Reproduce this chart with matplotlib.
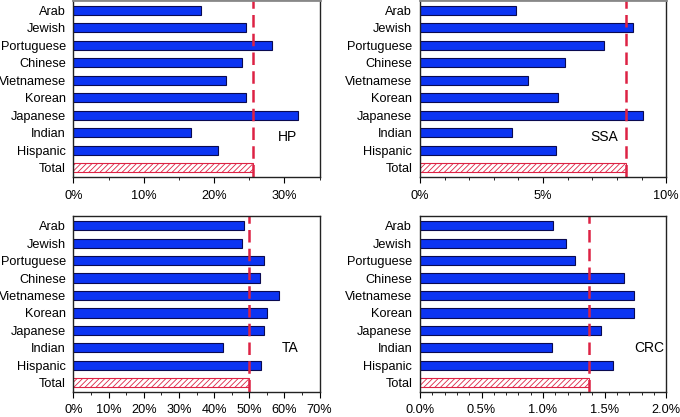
import numpy as np
import matplotlib.pyplot as plt
from matplotlib.ticker import MultipleLocator, FuncFormatter

plt.rcParams['font.family'] = ['Liberation Sans', 'DejaVu Sans']
plt.rcParams['hatch.color'] = '#e8334f'
plt.rcParams['hatch.linewidth'] = 0.6

groups = ["Arab", "Jewish", "Portuguese", "Chinese", "Vietnamese",
          "Korean", "Japanese", "Indian", "Hispanic", "Total"]

hp = [18.2, 24.5, 28.3, 24.0, 21.7, 24.5, 31.9, 16.7, 20.5, 25.5]
ssa = [3.89, 8.67, 7.48, 5.88, 4.40, 5.60, 9.08, 3.73, 5.51, 8.37]
ta = [48.6, 48.0, 54.1, 53.0, 58.5, 55.0, 54.3, 42.4, 53.3, 49.8]
crc = [1.08, 1.19, 1.26, 1.66, 1.74, 1.74, 1.47, 1.07, 1.57, 1.37]

BLUE = '#0c34f2'
EDGE = '#0a0a50'
RED = '#dd2244'

# (values, label, xmax, major, minor, decimals, label x, label row)
panels = [
    (hp, "HP", 35, 10, 5, 0, 30.5, 7.25),
    (ssa, "SSA", 10, 5, 1, 0, 7.5, 7.25),
    (ta, "TA", 70, 10, 5, 0, 61.5, 7.0),
    (crc, "CRC", 2.0, 0.5, 0.1, 1, 1.86, 7.0),
]

fig = plt.figure(figsize=(6.8, 4.17), dpi=100)
boxes = [
    [0.108, 0.5755, 0.362, 0.4235],
    [0.6176, 0.5755, 0.362, 0.4235],
    [0.108, 0.060, 0.362, 0.422],
    [0.6176, 0.060, 0.362, 0.422],
]

for i, (vals, name, xmax, major, minor, dec, lx, ly) in enumerate(panels):
    ax = fig.add_axes(boxes[i])
    y = np.arange(len(groups))
    ax.barh(y[:-1], vals[:-1], height=0.52, color=BLUE, edgecolor=EDGE, linewidth=0.8)
    ax.barh(y[-1], vals[-1], height=0.52, color='white', edgecolor=RED,
            linewidth=0.8, hatch='//////')
    ax.axvline(vals[-1], color=RED, linestyle=(0, (5, 2.5)), linewidth=1.8)
    ax.set_xlim(0, xmax)
    ax.set_ylim(9.52, -0.55)
    ax.set_yticks(y)
    ax.set_yticklabels(groups, fontsize=9.2)
    ax.tick_params(axis='y', length=0, pad=5.5)
    ax.xaxis.set_major_locator(MultipleLocator(major))
    ax.xaxis.set_minor_locator(MultipleLocator(minor))
    ax.xaxis.set_major_formatter(FuncFormatter(lambda v, p, d=dec: f"{v:.{d}f}%"))
    ax.tick_params(axis='x', which='major', length=4, width=0.8, labelsize=9.2, pad=5)
    ax.tick_params(axis='x', which='minor', length=2.5, width=0.6)
    for s in ax.spines.values():
        s.set_linewidth(1.0)
        s.set_color('#222222')
    if i < 2:
        ax.spines['top'].set_color('#888888')
        ax.spines['top'].set_linewidth(2)
    ax.text(lx, ly, name, fontsize=10, ha='center', va='center')

fig.savefig("out.png", dpi=100)
